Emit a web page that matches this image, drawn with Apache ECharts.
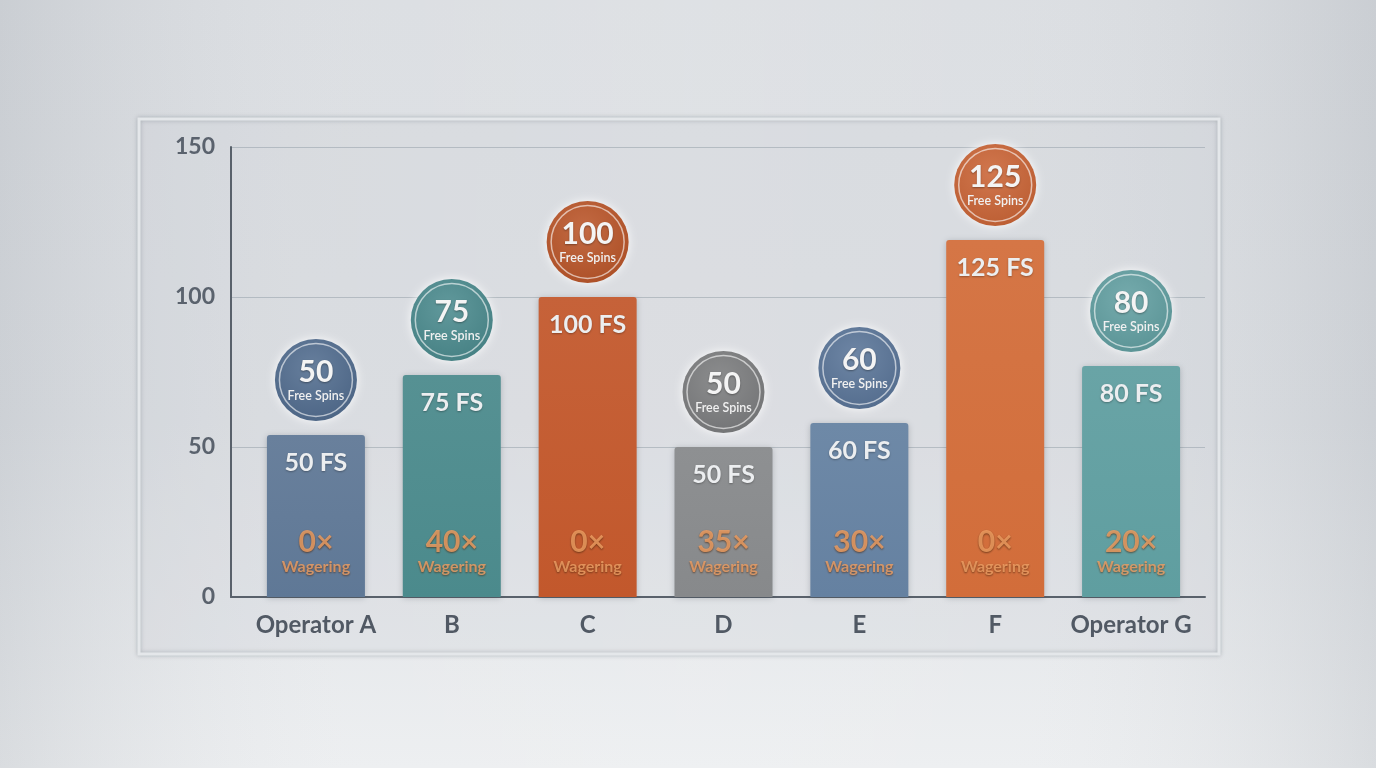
<!DOCTYPE html>
<html>
<head>
<meta charset="utf-8">
<script src="https://cdn.jsdelivr.net/npm/echarts@6/dist/echarts.min.js"></script>
<style>
html,body{margin:0;padding:0;width:1376px;height:768px;overflow:hidden;}
#chart{width:1376px;height:768px;}
</style>
</head>
<body>
<div id="chart"></div>
<script>
// ---- data ----
const categories = ['Operator A', 'B', 'C', 'D', 'E', 'F', 'Operator G'];
const barValues = [54, 74, 100, 50, 58, 119, 77];          // bar heights as drawn
const badgeNumbers = ['50', '75', '100', '50', '60', '125', '80'];
const fsLabels = ['50 FS', '75 FS', '100 FS', '50 FS', '60 FS', '125 FS', '80 FS'];
const wagering = ['0×', '40×', '0×', '35×', '30×', '0×', '20×'];
const yTicks = [0, 50, 100, 150];

const barColors = ['#5f7896', '#4b8a8c', '#c2582c', '#87898b', '#6581a1', '#d26d3a', '#5f9ea0'];
const badgeColors = ['#526d90', '#4b8b8e', '#bb5629', '#7c7d7f', '#5a7599', '#cb6536', '#62a0a2'];

const chart = echarts.init(document.getElementById('chart'));
const FONT = 'Lato, "Open Sans", sans-serif';

function shade(hex, f) {
  const n = parseInt(hex.slice(1), 16);
  let r = (n >> 16) & 255, g = (n >> 8) & 255, b = n & 255;
  const t = f < 0 ? 0 : 255, p = Math.abs(f);
  r = Math.round((t - r) * p + r); g = Math.round((t - g) * p + g); b = Math.round((t - b) * p + b);
  return 'rgb(' + r + ',' + g + ',' + b + ')';
}

const option = {
  backgroundColor: {
    type: 'linear', x: 0, y: 0, x2: 0, y2: 1,
    colorStops: [
      { offset: 0, color: '#dadde1' },
      { offset: 0.55, color: '#dde0e4' },
      { offset: 1, color: '#eceef0' }
    ]
  },
  animation: false,
  graphic: [
    {
      type: 'rect', z: -10, silent: true,
      shape: { x: 0, y: 0, width: 1376, height: 768 },
      style: {
        fill: {
          type: 'linear', x: 0, y: 0, x2: 1, y2: 0,
          colorStops: [
            { offset: 0, color: 'rgba(120,128,138,0.16)' },
            { offset: 0.25, color: 'rgba(255,255,255,0.05)' },
            { offset: 0.5, color: 'rgba(255,255,255,0.12)' },
            { offset: 0.75, color: 'rgba(255,255,255,0.05)' },
            { offset: 1, color: 'rgba(120,128,138,0.16)' }
          ]
        }
      }
    },
    {
      type: 'rect', z: 0, silent: true,
      shape: { x: 139, y: 119, width: 1080, height: 535 },
      style: {
        fill: 'rgba(240,243,246,0.22)',
        stroke: '#e4e7ea', lineWidth: 3,
        shadowColor: 'rgba(90,100,110,0.4)', shadowBlur: 4
      }
    }
  ],
  grid: [
    { left: 248, right: 177, top: 147, bottom: 171 },
    { left: 231, right: 171, top: 147, bottom: 171 }
  ],
  xAxis: [
    {
      type: 'category', gridIndex: 0, data: categories,
      axisLine: { show: false }, axisTick: { show: false },
      axisLabel: { interval: 0, margin: 16, fontFamily: FONT, fontSize: 24, fontWeight: 'bold', color: '#515964' }
    },
    {
      type: 'value', gridIndex: 1, min: 0, max: 1,
      axisLine: { show: true, lineStyle: { color: '#59616b', width: 2 } },
      axisTick: { show: false }, axisLabel: { show: false }, splitLine: { show: false }
    }
  ],
  yAxis: [
    { type: 'value', gridIndex: 0, min: 0, max: 150, interval: 50, show: false },
    {
      type: 'value', gridIndex: 1, min: yTicks[0], max: yTicks[yTicks.length - 1], interval: 50,
      axisLine: { show: true, lineStyle: { color: '#59616b', width: 2 } },
      axisTick: { show: false },
      axisLabel: { margin: 16, fontFamily: FONT, fontSize: 23, fontWeight: 'bold', color: '#5a626d' },
      splitLine: { show: true, lineStyle: { color: 'rgba(150,160,170,0.55)', width: 1 } }
    }
  ],
  series: [
    {
      type: 'bar', xAxisIndex: 0, yAxisIndex: 0, barWidth: 98, z: 3,
      data: barValues.map((v, i) => ({
        value: v,
        itemStyle: {
          color: {
            type: 'linear', x: 0, y: 0, x2: 0, y2: 1,
            colorStops: [{ offset: 0, color: shade(barColors[i], 0.06) }, { offset: 1, color: barColors[i] }]
          },
          borderRadius: [3, 3, 0, 0],
          shadowColor: 'rgba(40,50,60,0.25)', shadowBlur: 6, shadowOffsetY: 1
        }
      })),
      label: {
        show: true, position: 'insideTop', distance: 15,
        formatter: p => fsLabels[p.dataIndex],
        fontFamily: FONT, fontSize: 25, fontWeight: 'bold', color: '#eceef0',
        textShadowColor: 'rgba(0,0,0,0.3)', textShadowBlur: 2, textShadowOffsetY: 1
      }
    },
    {
      type: 'scatter', xAxisIndex: 0, yAxisIndex: 0, symbolSize: 0, z: 5, silent: true,
      data: barValues.map(() => 0),
      label: {
        show: true, position: 'top', distance: 20,
        formatter: p => '{n|' + wagering[p.dataIndex] + '}\n{w|Wagering}',
        rich: {
          n: { fontFamily: FONT, fontSize: 30, fontWeight: 'bold', color: '#f2a164', lineHeight: 30, align: 'center',
               textShadowColor: 'rgba(70,35,10,0.8)', textShadowBlur: 2, textShadowOffsetY: 1 },
          w: { fontFamily: FONT, fontSize: 16, fontWeight: 'bold', color: '#f0a166', lineHeight: 20, align: 'center',
               textShadowColor: 'rgba(70,35,10,0.8)', textShadowBlur: 2, textShadowOffsetY: 1 }
        }
      }
    },
    {
      type: 'scatter', xAxisIndex: 0, yAxisIndex: 0, z: 6,
      symbol: 'circle', symbolSize: 82, symbolOffset: [0, -55],
      data: barValues.map((v, i) => ({
        value: v,
        itemStyle: {
          color: {
            type: 'radial', x: 0.45, y: 0.35, r: 0.7,
            colorStops: [{ offset: 0, color: shade(badgeColors[i], 0.12) }, { offset: 1, color: shade(badgeColors[i], -0.08) }]
          },
          opacity: 1,
          shadowColor: 'rgba(255,255,255,0.9)', shadowBlur: 10
        }
      })),
      label: {
        show: true, position: 'inside',
        formatter: p => '{v|' + badgeNumbers[p.dataIndex] + '}\n{s|Free Spins}',
        rich: {
          v: { fontFamily: FONT, fontSize: 30, fontWeight: 'bold', color: '#f4f4f4', lineHeight: 31, align: 'center',
               textShadowColor: 'rgba(0,0,0,0.35)', textShadowBlur: 2, textShadowOffsetY: 1 },
          s: { fontFamily: FONT, fontSize: 12.5, fontWeight: 600, color: '#f0f0f0', lineHeight: 16, align: 'center' }
        }
      }
    },
    {
      type: 'scatter', xAxisIndex: 0, yAxisIndex: 0, z: 7, silent: true,
      symbol: 'circle', symbolSize: 73, symbolOffset: [0, -55],
      data: barValues.slice(),
      itemStyle: { color: 'rgba(0,0,0,0)', borderColor: 'rgba(255,255,255,0.75)', borderWidth: 1.5 }
    }
  ]
};
chart.setOption(option);
</script>
</body>
</html>
